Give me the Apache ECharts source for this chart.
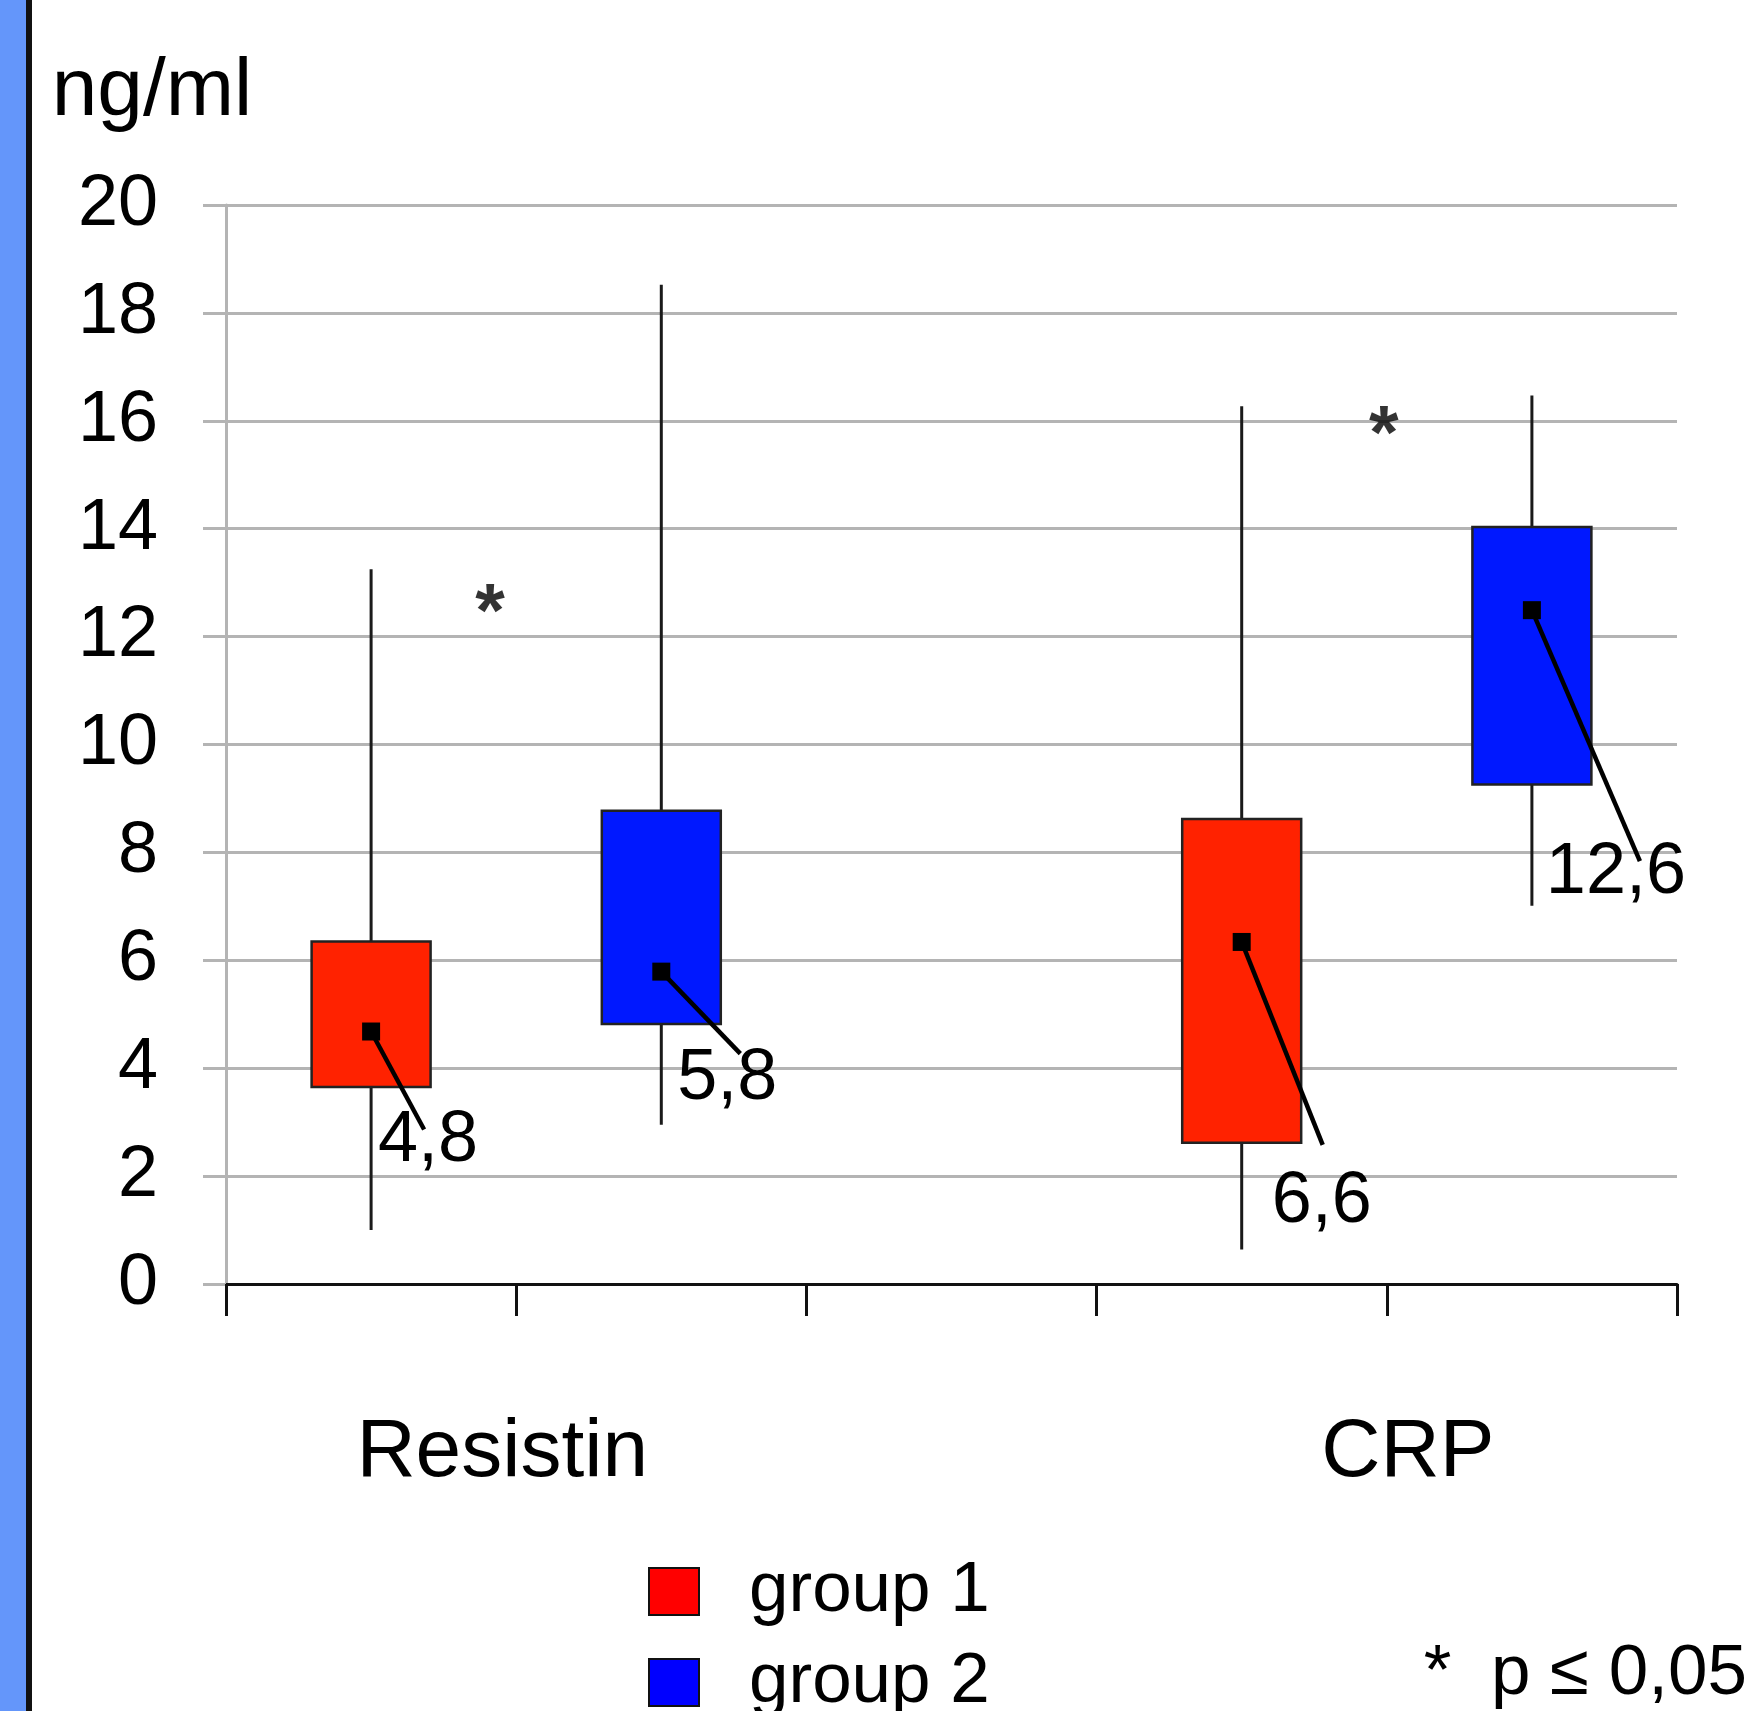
<!DOCTYPE html>
<html><head><meta charset="utf-8">
<script src="https://cdn.jsdelivr.net/npm/echarts@6/dist/echarts.min.js"></script>
<style>html,body{margin:0;padding:0;background:#fff}#chart{width:1757px;height:1711px}</style>
</head><body><div id="chart"></div>
<script>
// ---------- data ----------
const categories = ['Resistin group 1', 'Resistin group 2', '', 'CRP group 1', 'CRP group 2'];
const yMin = 0, yMax = 20, yStep = 2;
const unitName = 'ng/ml';

const group1Name = 'group 1';
const group1Cat = ['Resistin group 1', 'CRP group 1'];
const group1Low = [1.0, 0.64];
const group1Q1 = [3.65, 2.62];
const group1Q3 = [6.35, 8.62];
const group1High = [13.25, 16.27];
const group1Center = [4.68, 6.34];
const group1Label = ['4,8', '6,6'];

const group2Name = 'group 2';
const group2Cat = ['Resistin group 2', 'CRP group 2'];
const group2Low = [2.95, 7.01];
const group2Q1 = [4.82, 9.26];
const group2Q3 = [8.77, 14.03];
const group2High = [18.52, 16.47];
const group2Center = [5.79, 12.49];
const group2Label = ['5,8', '12,6'];

const panelNames = ['Resistin', 'CRP'];
const panelAt = [1, 4];            // category-boundary index under each pair
const sigX = [0.91, 3.99];         // asterisk positions (category units)
const sigY = [12.7, 16.0];
const sigNote = '*  p \u2264 0,05';

// ---------- style ----------
const FONT = "'Liberation Sans', Arial, sans-serif";
const red = '#ff2200', blue = '#0018ff';
// callout layout: [leaderDx, leaderDy, labelDx, labelDy] in px from the marker
const callout1 = [[53, 98, 57, 110], [81, 203, 80, 260]];
const callout2 = [[79, 82, 66, 108], [108, 251, 84, 263]];

function makeRender(color, labels, callouts) {
  return function (params, api) {
    const ci = api.value(0);
    const cx = api.coord([ci, 0])[0];
    const yLow = api.coord([ci, api.value(1)])[1];
    const yQ1 = api.coord([ci, api.value(2)])[1];
    const yQ3 = api.coord([ci, api.value(3)])[1];
    const yHigh = api.coord([ci, api.value(4)])[1];
    const yMid = api.coord([ci, api.value(5)])[1];
    const bw = api.size([1, 0])[0] * 0.41;
    const c = callouts[params.dataIndex];
    return {
      type: 'group',
      children: [
        { type: 'line', shape: { x1: cx, y1: yHigh, x2: cx, y2: yLow },
          style: { stroke: '#1a1a1a', lineWidth: 3 } },
        { type: 'rect', shape: { x: cx - bw / 2, y: yQ3, width: bw, height: yQ1 - yQ3 },
          style: { fill: color, stroke: '#222', lineWidth: 2.5 } },
        { type: 'line', shape: { x1: cx, y1: yMid, x2: cx + c[0], y2: yMid + c[1] },
          style: { stroke: '#000', lineWidth: 4.5 } },
        { type: 'rect', shape: { x: cx - 9, y: yMid - 9, width: 18, height: 18 },
          style: { fill: '#000' } },
        { type: 'text', x: cx + c[2], y: yMid + c[3],
          style: { text: labels[params.dataIndex], fill: '#000', fontSize: 72, fontFamily: FONT,
                   align: 'center', verticalAlign: 'middle' } }
      ]
    };
  };
}

function rows(cat, lo, q1, q3, hi, ce) {
  return cat.map((c, i) => [c, lo[i], q1[i], q3[i], hi[i], ce[i]]);
}

function legendFor(name, color, top) {
  return {
    orient: 'vertical', left: 648, top: top, itemWidth: 50, itemHeight: 47,
    padding: 0, selectedMode: false,
    textStyle: { fontSize: 71, lineHeight: 47, color: '#000', fontFamily: FONT, padding: [0, 0, 0, 45] },
    data: [{ name: name, icon: 'rect', itemStyle: { color: color, borderColor: '#111', borderWidth: 2 } }]
  };
}

const chart = echarts.init(document.getElementById('chart'), null, { renderer: 'canvas' });
chart.setOption({
  animation: false,
  backgroundColor: '#ffffff',
  textStyle: { fontFamily: FONT },
  grid: { left: 226, right: 80, top: 205, bottom: 427, containLabel: false },
  title: {
    text: sigNote, right: 10, top: 1639, padding: 0,
    textStyle: { fontSize: 71, fontWeight: 'normal', color: '#000', fontFamily: FONT }
  },
  legend: [legendFor(group1Name, '#ff0000', 1556), legendFor(group2Name, '#0000ff', 1647)],
  xAxis: [
    {
      type: 'category', data: categories, boundaryGap: true,
      axisLine: { lineStyle: { color: '#111', width: 3 } },
      axisTick: { show: true, length: 32, interval: 0, lineStyle: { color: '#111', width: 3 } },
      axisLabel: { show: false }, splitLine: { show: false }
    },
    {
      type: 'value', min: 0, max: categories.length, interval: 1, position: 'bottom',
      axisLine: { show: false }, axisTick: { show: false }, splitLine: { show: false },
      axisLabel: {
        margin: 128, color: '#000', fontFamily: FONT,
        formatter: function (v) {
          const k = panelAt.indexOf(v);
          return k < 0 ? '' : '{p' + k + '|' + panelNames[k] + '}';
        },
        rich: {
          p0: { fontSize: 82, lineHeight: 82, color: '#000', fontFamily: FONT, padding: [0, 28, 0, 0] },
          p1: { fontSize: 82, lineHeight: 82, color: '#000', fontFamily: FONT, padding: [0, 0, 0, 42] }
        }
      }
    }
  ],
  yAxis: {
    type: 'value', min: yMin, max: yMax, interval: yStep,
    name: unitName, nameLocation: 'end', nameGap: 72,
    nameTextStyle: { fontSize: 82, color: '#000', fontFamily: FONT, padding: [0, 148, 0, 0] },
    axisLine: { show: true, lineStyle: { color: '#b4b4b4', width: 3 } },
    axisTick: { show: true, length: 23, lineStyle: { color: '#b4b4b4', width: 3 } },
    splitLine: { show: true, lineStyle: { color: '#b4b4b4', width: 3 } },
    axisLabel: { fontSize: 72, color: '#000', margin: 68, fontFamily: FONT }
  },
  graphic: [
    { type: 'rect', shape: { x: 0, y: 0, width: 26, height: 1711 }, style: { fill: '#6496fa' }, z: 10 },
    { type: 'rect', shape: { x: 26, y: 0, width: 6, height: 1711 }, style: { fill: '#111' }, z: 10 }
  ],
  series: [
    {
      name: group1Name, type: 'custom', xAxisIndex: 0, yAxisIndex: 0,
      itemStyle: { color: '#ff0000' },
      encode: { x: 0, y: [1, 2, 3, 4, 5] },
      data: rows(group1Cat, group1Low, group1Q1, group1Q3, group1High, group1Center),
      renderItem: makeRender(red, group1Label, callout1), z: 5
    },
    {
      name: group2Name, type: 'custom', xAxisIndex: 0, yAxisIndex: 0,
      itemStyle: { color: '#0000ff' },
      encode: { x: 0, y: [1, 2, 3, 4, 5] },
      data: rows(group2Cat, group2Low, group2Q1, group2Q3, group2High, group2Center),
      renderItem: makeRender(blue, group2Label, callout2), z: 5
    },
    {
      name: 'significance', type: 'scatter', xAxisIndex: 1, yAxisIndex: 0,
      symbolSize: 1, itemStyle: { color: 'rgba(0,0,0,0)' }, silent: true,
      data: sigX.map((x, i) => [x, sigY[i]]),
      label: { show: true, position: 'inside', formatter: '*', fontSize: 76, fontWeight: 'bold',
               color: '#000', fontFamily: FONT, offset: [0, 16] }
    }
  ]
});
</script></body></html>
